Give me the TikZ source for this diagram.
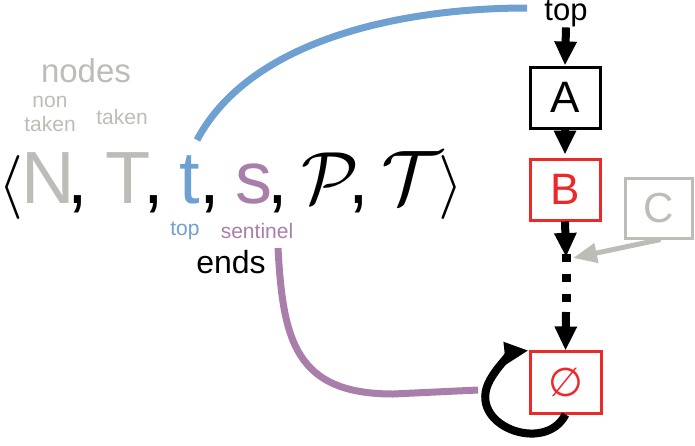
\documentclass[tikz,border=0pt]{standalone}
\usepackage{fontspec}
\setmainfont{Liberation Sans}
\newfontfamily\djv{DejaVu Sans}
\usetikzlibrary{arrows.meta}
\definecolor{gr}{RGB}{187,189,182}
\definecolor{bl}{RGB}{110,160,210}
\definecolor{pu}{RGB}{170,126,170}
\definecolor{rd}{RGB}{237,40,40}
\newcommand{\fsz}[1]{\fontsize{#1}{#1}\selectfont}
\newcommand{\mysym}[2]{\scalebox{#1}{$#2$}}
\tikzset{
  glyph/.style={anchor=base west, inner sep=0pt, font=\fsz{74}},
  mglyph/.style={anchor=base west, inner sep=0pt, font=\normalsize},
  lbl/.style={inner sep=0pt, font=\fsz{21}},
  box/.style={draw, line width=3pt, minimum width=70pt, minimum height=61pt, inner sep=0pt, font=\fsz{44}},
  arr/.style={line width=8pt, -{Triangle[length=24pt,width=21pt]}},
}
\begin{document}
\begin{tikzpicture}[x=1pt,y=-1pt]
\useasboundingbox (0,0) rectangle (695,445);
% formula
\node[mglyph] (lang) at (-2,203) {\mysym{6.4}{\langle}};
\node[glyph, text=gr] (nN) at (21,203) {N};
\node[glyph] (c1) at (67,203) {,};
\node[glyph, text=gr] (nT) at (105,203) {T};
\node[glyph] (c2) at (143,203) {,};
\node[glyph, text=bl] (nt) at (179,203) {t};
\node[glyph] (c3) at (199,203) {,};
\node[glyph, text=pu] (ns) at (235,203) {s};
\node[glyph] (c4) at (267,203) {,};
\node[mglyph] (nP) at (301,203) {\mysym{7.4}{\mathcal{P}}};
\node[glyph] (c5) at (348,203) {,};
\node[mglyph] (nTT) at (381,203) {\mysym{7.6}{\mathcal{T}}};
\node[mglyph] (rang) at (438,203) {\mysym{6.4}{\rangle}};
% labels
\node[lbl, text=gr, font=\fsz{33}] (lnodes) at (86,71) {nodes};
\node[lbl, text=gr, align=center, font=\fontsize{21}{24}\selectfont] (lnon) at (50,114) {non\\taken};
\node[lbl, text=gr] (ltaken) at (122,117) {taken};
\node[lbl, text=bl] (ltop) at (185,231) {top};
\node[lbl, text=pu] (lsent) at (257,231) {sentinel};
\node[lbl, font=\fsz{32}] (lends) at (231,262) {ends};
% chain
\node[lbl, font=\fsz{31}] (toplbl) at (566,14) {top};
\node[box] (A) at (565,97.5) {A};
\node[box, draw=rd, text=rd] (B) at (565,189.5) {B};
\node[box, draw=gr, text=gr, minimum width=67pt, minimum height=60pt, font=\fsz{42}] (C) at (658.5,208) {C};
\node[box, draw=rd, text=rd, minimum width=71pt, minimum height=62pt, font=\fsz{40}\djv] (E) at (565.5,382) {∅};
\coordinate (mid) at (566,257);
\coordinate (gtip) at (573,258);
\coordinate (dend) at (566,312);
\coordinate (bstart) at (197,140);
\coordinate (bend) at (527,8);
\coordinate (pstart) at (278,248);
\coordinate (pend) at (478,390);
\draw[arr] (toplbl.south) -- (A.north);
\draw[arr] (A.south) -- ([yshift=3pt]B.north);
\draw[arr] (B.south) -- (mid);
\draw[line width=9pt, dash pattern=on 8pt off 12pt] ([yshift=3pt]mid) -- (dend);
\draw[arr] (dend) -- ([yshift=-1pt]E.north);
\draw[line width=5pt, draw=gr, -{Triangle[length=24pt,width=19pt]}] ([xshift=2pt]C.south) -- (gtip);
\draw[arr] (E.south) .. controls (545,455) and (465,425) .. (490,380)
   .. controls (500,362) and (515,352) .. ([yshift=-1pt]E.north west);
% curves
\draw[bl, line width=7pt] (bstart) .. controls (250,40) and (400,8) .. (bend);
\draw[pu, line width=7pt] (pstart) .. controls (283,340) and (295,394) .. (393,394) -- (pend);
\end{tikzpicture}
\end{document}
